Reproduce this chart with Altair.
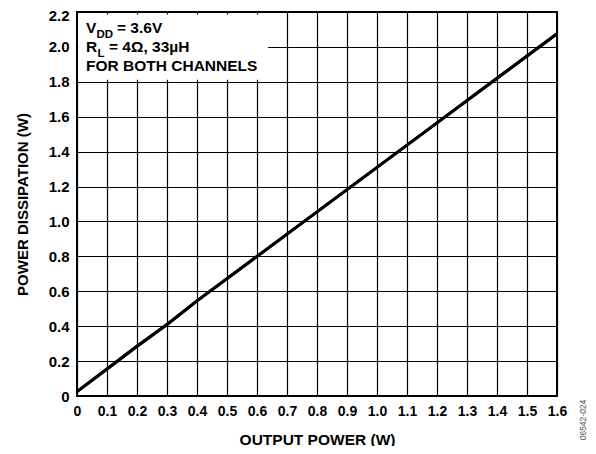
import altair as alt
import pandas as pd

# data
out_power = [0.0, 0.1, 0.2, 0.3, 0.4, 0.6, 0.8, 1.0, 1.2, 1.4, 1.6]
dissipation = [0.025, 0.155, 0.285, 0.41, 0.545, 0.80, 1.055, 1.31, 1.565, 1.82, 2.075]

x_ticks = [round(i * 0.1, 1) for i in range(17)]
y_ticks = [round(i * 0.2, 1) for i in range(12)]

X_MAX, Y_MAX = 1.6, 2.2
FONT = "Liberation Sans"

df = pd.DataFrame({"p": out_power, "d": dissipation})
box = pd.DataFrame({"x0": [0.004], "x1": [0.637], "y0": [1.812], "y1": [2.186]})
frame = pd.DataFrame({"x0": [0.0], "x1": [X_MAX], "y0": [0.0], "y1": [Y_MAX]})

xs = alt.Scale(domain=[0, X_MAX], nice=False, zero=False)
ys = alt.Scale(domain=[0, Y_MAX], nice=False, zero=False)

lab = "datum.value == 0 ? '0' : format(datum.value, '.1f')"

common = dict(labelExpr=lab, grid=True, gridColor="black", gridWidth=1.2, gridOpacity=1,
              ticks=False, domain=False, labelFont=FONT, labelFontWeight="bold",
              labelColor="black", labelOverlap=False, labelFlush=False, titleFont=FONT,
              titleFontWeight="bold", titleColor="black")

x_axis = alt.Axis(values=x_ticks, title="OUTPUT POWER (W)", labelFontSize=14,
                  labelPadding=8, titleFontSize=15.5, titlePadding=14, **common)
y_axis = alt.Axis(values=y_ticks, title="POWER DISSIPATION (W)", labelFontSize=15,
                  labelPadding=8, titleFontSize=15, titlePadding=18,
                  labelOffset={"condition": {"test": "datum.value >= 2.15", "value": 3},
                               "value": 0},
                  **common)

line = alt.Chart(df).mark_line(color="black", strokeWidth=3).encode(
    x=alt.X("p:Q", scale=xs, axis=x_axis),
    y=alt.Y("d:Q", scale=ys, axis=y_axis),
)

white = alt.Chart(box).mark_rect(fill="white").encode(
    x=alt.X("x0:Q", scale=xs, axis=x_axis), x2="x1:Q",
    y=alt.Y("y0:Q", scale=ys, axis=y_axis), y2="y1:Q",
)

border = alt.Chart(frame).mark_rect(fill=None, stroke="black", strokeWidth=2).encode(
    x=alt.X("x0:Q", scale=xs, axis=x_axis), x2="x1:Q",
    y=alt.Y("y0:Q", scale=ys, axis=y_axis), y2="y1:Q",
)

tstyle = dict(font=FONT, fontWeight="bold", fontSize=15.5, color="black", align="left",
              baseline="alphabetic")

def txt(s, x, y, **kw):
    st = dict(tstyle)
    st.update(kw)
    return alt.Chart(pd.DataFrame({"t": [s]})).mark_text(**st).encode(
        text="t:N", x=alt.value(x), y=alt.value(y))

labels = [
    txt("V", 9, 21.3),
    txt("DD", 19.5, 25.5, fontSize=11.5),
    txt("= 3.6V", 40, 21.3),
    txt("R", 9, 40.3),
    txt("L", 20.5, 44.5, fontSize=11.5),
    txt("= 4Ω, 33µH", 32, 40.3),
    txt("FOR BOTH CHANNELS", 9, 59),
]

ident = alt.Chart(pd.DataFrame({"t": ["06542-024"]})).mark_text(
    font=FONT, fontSize=8.5, color="#555555", angle=270, align="center", baseline="middle"
).encode(text="t:N", x=alt.value(505.5), y=alt.value(408))

chart = alt.layer(line, white, line, border, *labels, ident).properties(
    width=480, height=384,
    autosize=alt.AutoSizeParams(type="none"),
    padding={"left": 69, "top": 4, "right": 31, "bottom": 50},
).configure_view(stroke=None).configure(background="white")

chart.save("out.html", embed_options={"renderer": "svg", "actions": False})
